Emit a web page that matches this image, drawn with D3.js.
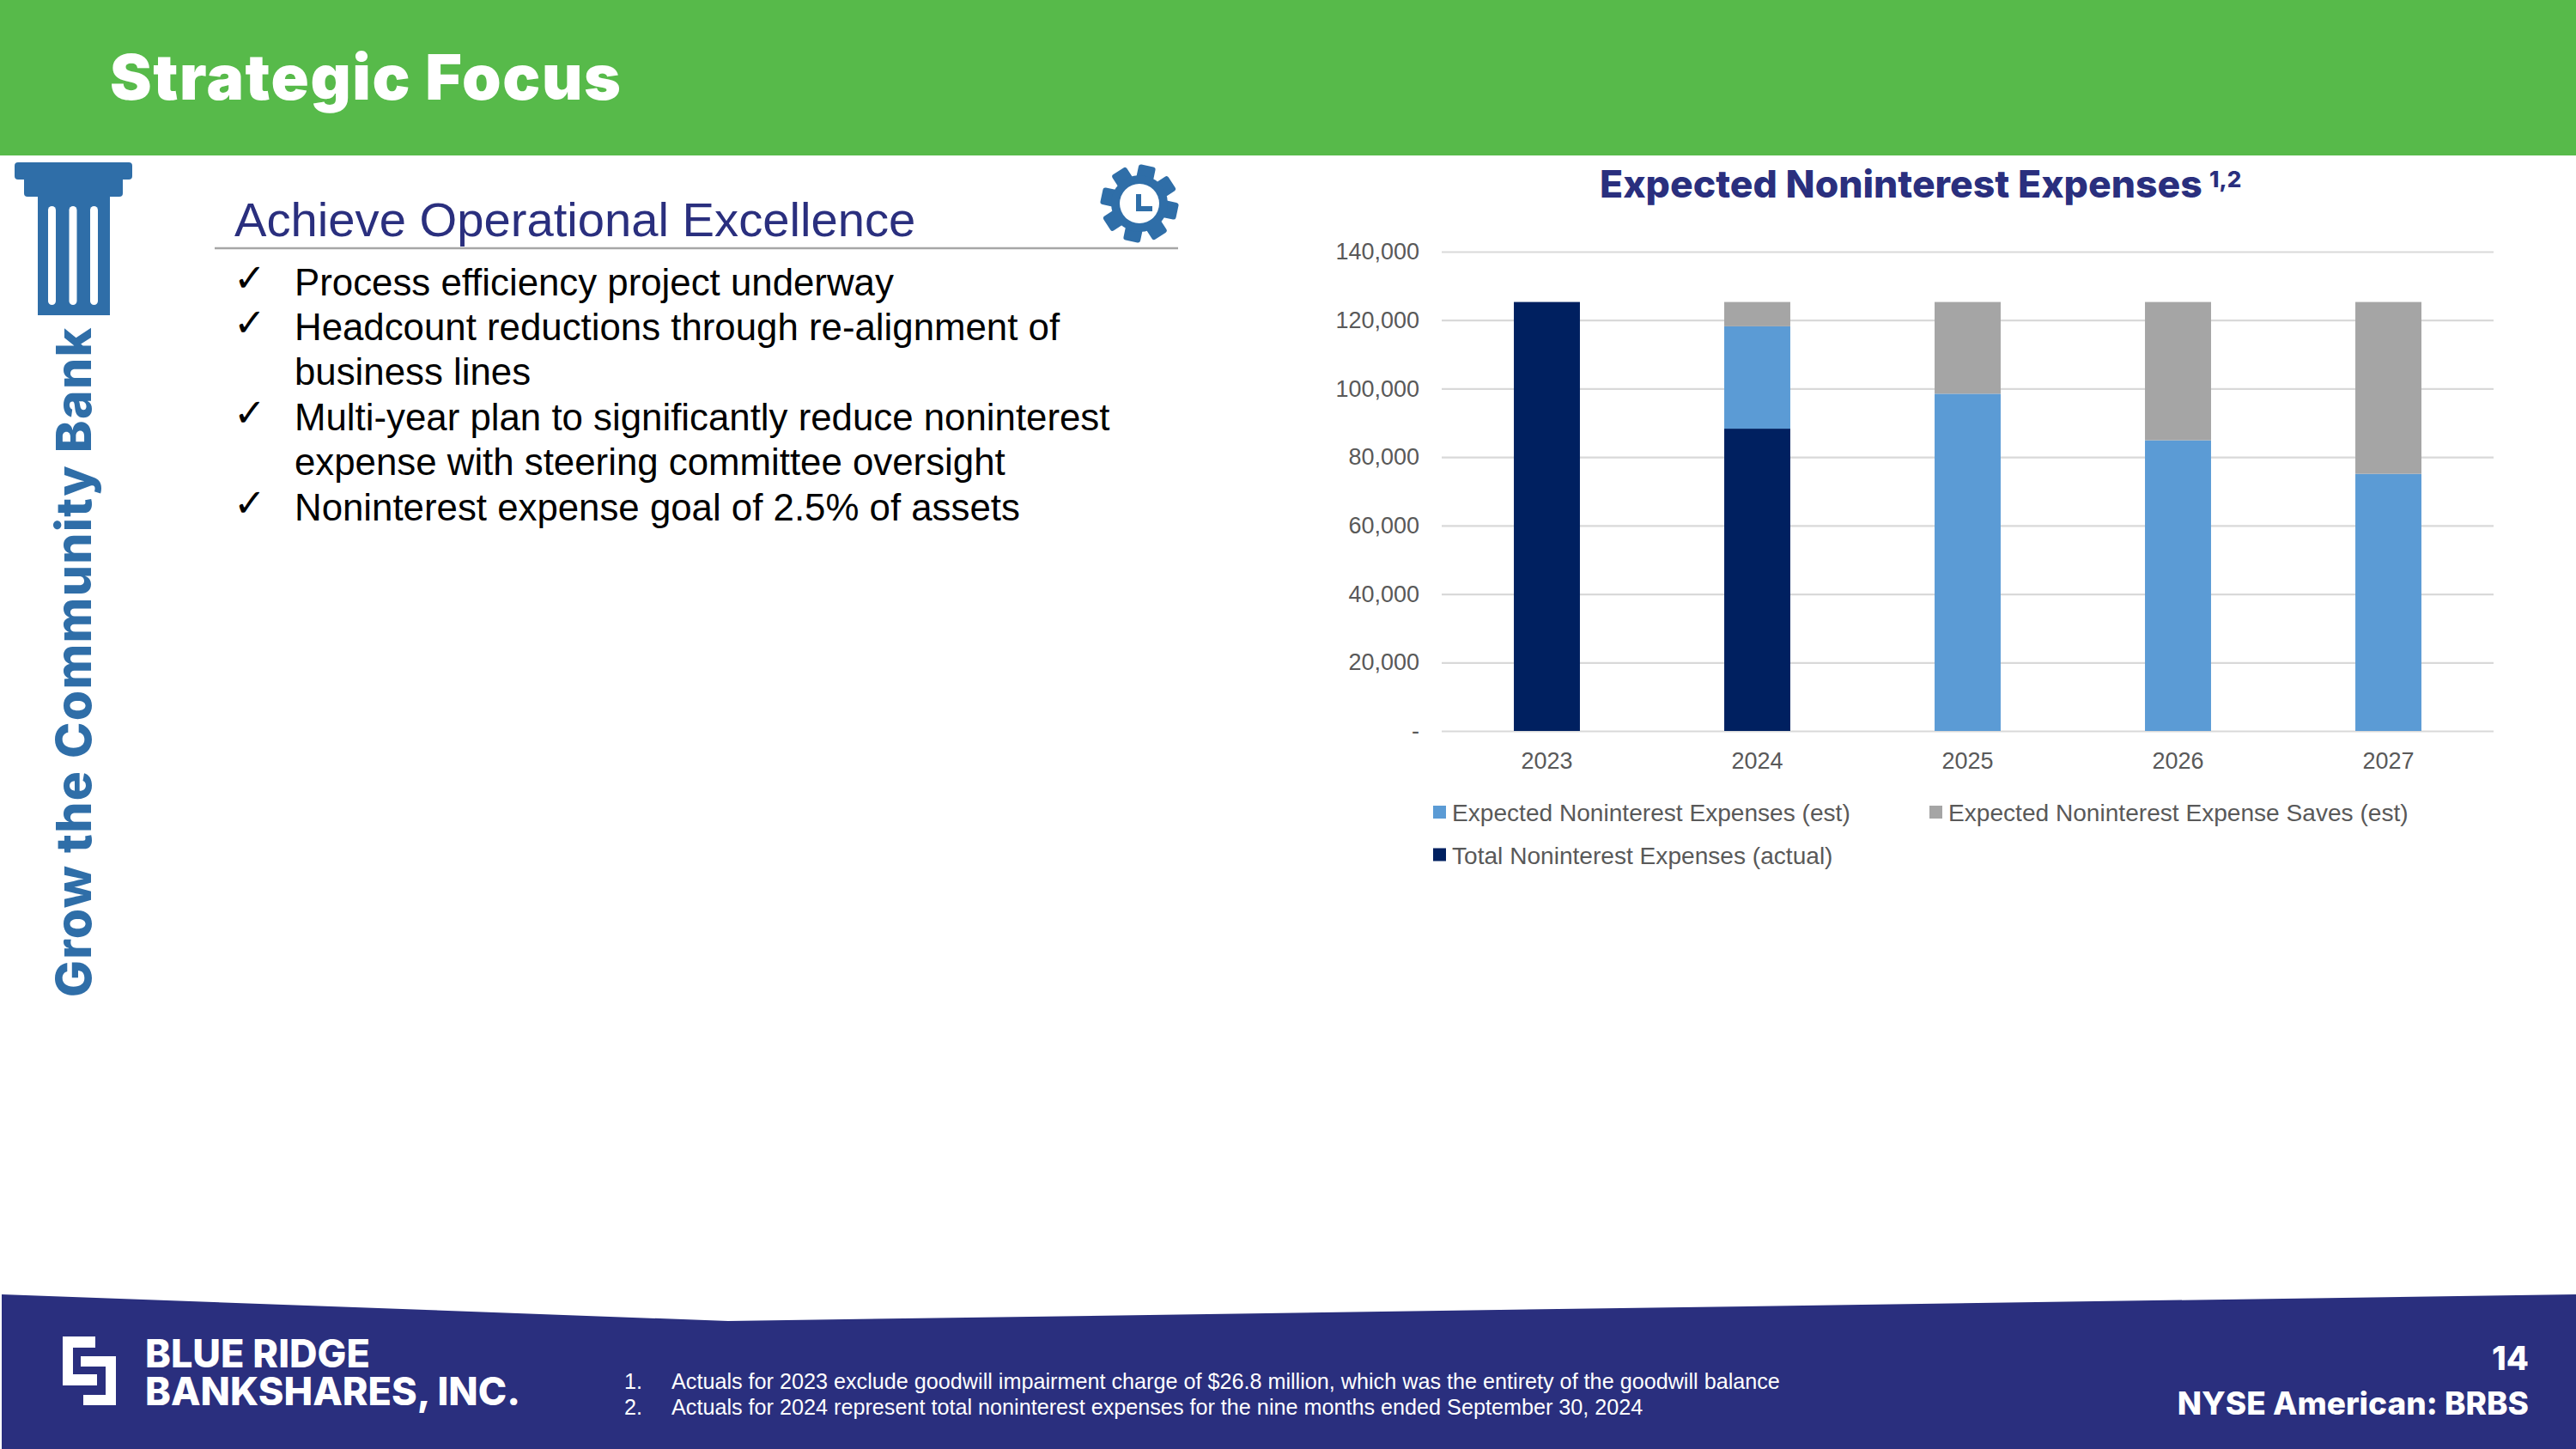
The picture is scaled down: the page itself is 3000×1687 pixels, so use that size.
<!DOCTYPE html>
<html>
<head>
<meta charset="utf-8">
<title>Strategic Focus</title>
<script src="https://cdn.jsdelivr.net/npm/d3@7"></script>
<style>
  html, body { margin: 0; padding: 0; background: #fff; }
  svg { display: block; }
  text { font-family: "Liberation Sans", Arial, sans-serif; }
  .heavy { font-family: Inter, "Open Sans", sans-serif; font-weight: 800; }
</style>
</head>
<body>
<svg id="slide" width="3000" height="1687"></svg>
<script>
var years = ["2023", "2024", "2025", "2026", "2027"];
var actual = [125300, 88300, 0, 0, 0];
var expected = [0, 29900, 98500, 84900, 75100];
var saves = [0, 7100, 26800, 40400, 50200];
var yTicks = [0, 20000, 40000, 60000, 80000, 100000, 120000, 140000];
var seriesNames = ["Total Noninterest Expenses (actual)", "Expected Noninterest Expenses (est)", "Expected Noninterest Expense Saves (est)"];
var seriesColors = ["#002060", "#5b9bd5", "#a5a5a5"];
var bullets = [
  ["Process efficiency project underway"],
  ["Headcount reductions through re-alignment of", "business lines"],
  ["Multi-year plan to significantly reduce noninterest", "expense with steering committee oversight"],
  ["Noninterest expense goal of 2.5% of assets"]
];
var footnotes = [
  "Actuals for 2023 exclude goodwill impairment charge of $26.8 million, which was the entirety of the goodwill balance",
  "Actuals for 2024 represent total noninterest expenses for the nine months ended September 30, 2024"
];

var navy = "#2a2f7e", steel = "#2f6ea8", green = "#57ba4a";
var svg = d3.select("#slide");

// slide furniture
svg.append("rect").attr("width", 3000).attr("height", 181).attr("fill", green);
svg.append("text").attr("class", "heavy").attr("x", 128).attr("y", 116).style("font-weight", 900)
    .attr("font-size", 73).attr("letter-spacing", 1.6).attr("fill", "#fff").text("Strategic Focus");

svg.append("polygon").attr("points", "2,1507 848,1538 3000,1507 3000,1687 2,1687").attr("fill", navy);

// logo
var logo = svg.append("g").attr("fill", "#fff");
logo.append("path").attr("d", "M73 1556H111V1569H85V1600H113V1613H73Z");
logo.append("path").attr("d", "M94 1579H135V1636H97V1624H123V1591H94Z");
var logoText = svg.append("text").attr("class", "heavy").attr("font-size", 45).attr("fill", "#fff");
logoText.append("tspan").attr("x", 169).attr("y", 1592).text("BLUE RIDGE");
logoText.append("tspan").attr("x", 169).attr("y", 1636).text("BANKSHARES, INC.");

footnotes.forEach(function(t, i) {
  var y = 1617 + i * 30;
  svg.append("text").attr("x", 727).attr("y", y).attr("font-size", 25.2).attr("fill", "#fff").text((i + 1) + ".");
  svg.append("text").attr("x", 782).attr("y", y).attr("font-size", 25.2).attr("fill", "#fff").text(t);
});
svg.append("text").attr("class", "heavy").attr("x", 2945).attr("y", 1595).attr("text-anchor", "end")
    .attr("font-size", 38).attr("fill", "#fff").text("14");
svg.append("text").attr("class", "heavy").attr("x", 2945).attr("y", 1647).attr("text-anchor", "end")
    .attr("font-size", 37).attr("fill", "#fff").text("NYSE American: BRBS");

// column icon and side label
var col = svg.append("g").attr("fill", steel);
col.append("rect").attr("x", 17).attr("y", 189).attr("width", 137).attr("height", 20).attr("rx", 4);
col.append("rect").attr("x", 28).attr("y", 200).attr("width", 115).attr("height", 29).attr("rx", 4);
col.append("rect").attr("x", 44).attr("y", 220).attr("width", 84).attr("height", 147);
[56, 80.5, 105].forEach(function(x) {
  svg.append("rect").attr("x", x).attr("y", 240).attr("width", 9).attr("height", 115).attr("rx", 4.5).attr("fill", "#fff");
});
svg.append("text").attr("class", "heavy").attr("transform", "translate(106,1161) rotate(-90)")
    .attr("font-size", 57).attr("letter-spacing", 1.3).attr("fill", steel).text("Grow the Community Bank");

// left panel
svg.append("text").attr("x", 273).attr("y", 275).attr("font-size", 56.2).attr("fill", navy).text("Achieve Operational Excellence");
svg.append("line").attr("x1", 250).attr("x2", 1372).attr("y1", 289).attr("y2", 289).attr("stroke", "#a6a6a6").attr("stroke-width", 2.5);

var lineNo = 0;
bullets.forEach(function(lines) {
  lines.forEach(function(t, i) {
    var y = 343.5 + lineNo * 52.4;
    if (i === 0) {
      svg.append("text").attr("x", 272).attr("y", y - 5).attr("font-size", 45).attr("fill", "#000")
          .style("font-family", "DejaVu Sans").text("\u2713");
    }
    svg.append("text").attr("x", 343).attr("y", y).attr("font-size", 43.8).attr("fill", "#000").text(t);
    lineNo++;
  });
});

// gear icon
var gear = svg.append("g").attr("transform", "translate(1327,237)");
d3.range(8).forEach(function(i) {
  gear.append("rect").attr("x", -10).attr("y", -45).attr("width", 20).attr("height", 22).attr("rx", 3)
      .attr("fill", steel).attr("transform", "rotate(" + (i * 45 + 12) + ")");
});
gear.append("circle").attr("r", 33).attr("fill", steel);
gear.append("circle").attr("r", 23).attr("fill", "#fff");
gear.append("path").attr("d", "M-4 -11H2V3H15V9H-4Z").attr("fill", steel);

// chart
var margin = {left: 1679, right: 2904, top: 293, bottom: 851};
var x = d3.scaleBand().domain(years).range([margin.left, margin.right]).paddingInner(0.686).paddingOuter(0.343);
var y = d3.scaleLinear().domain([0, 140000]).range([margin.bottom, margin.top]);

svg.append("text").attr("class", "heavy").attr("x", 1863).attr("y", 230)
    .attr("font-size", 44.5).attr("fill", navy).text("Expected Noninterest Expenses");
svg.append("text").attr("class", "heavy").attr("x", 2573).attr("y", 218)
    .attr("font-size", 26).attr("fill", navy).text("1,2");

var yAxis = d3.axisLeft(y).tickValues(yTicks).tickSize(0).tickPadding(26)
    .tickFormat(function(d) { return d === 0 ? "-" : d3.format(",")(d); });
var yG = svg.append("g").attr("transform", "translate(" + margin.left + ",0)").call(yAxis);
yG.select(".domain").remove();
yG.selectAll("text").attr("font-size", 27).attr("fill", "#595959").style("font-family", "Liberation Sans");
yG.selectAll(".tick").append("line").attr("x1", 0).attr("x2", margin.right - margin.left)
    .attr("stroke", "#d9d9d9").attr("stroke-width", 2.2);

var table = years.map(function(yr, i) {
  return {year: yr, actual: actual[i], expected: expected[i], saves: saves[i]};
});
var stack = d3.stack().keys(["actual", "expected", "saves"])(table);

svg.append("g").selectAll("g").data(stack).enter().append("g")
    .attr("fill", function(d, i) { return seriesColors[i]; })
  .selectAll("rect").data(function(d) { return d; }).enter().append("rect")
    .attr("x", function(d) { return x(d.data.year); })
    .attr("width", x.bandwidth())
    .attr("y", function(d) { return y(d[1]); })
    .attr("height", function(d) { return y(d[0]) - y(d[1]); });

var xAxis = d3.axisBottom(x).tickSize(0).tickPadding(25);
var xG = svg.append("g").attr("transform", "translate(0," + margin.bottom + ")").call(xAxis);
xG.select(".domain").remove();
xG.selectAll("text").attr("font-size", 27).attr("fill", "#595959").style("font-family", "Liberation Sans");

// legend, in the reference's order
var legendItems = [
  {s: 1, x: 1669, y: 956},
  {s: 2, x: 2247, y: 956},
  {s: 0, x: 1669, y: 1005.5}
];
legendItems.forEach(function(d) {
  svg.append("rect").attr("x", d.x).attr("y", d.y - 18).attr("width", 15).attr("height", 15).attr("fill", seriesColors[d.s]);
  svg.append("text").attr("x", d.x + 22).attr("y", d.y).attr("font-size", 28.1).attr("fill", "#595959").text(seriesNames[d.s]);
});
</script>
</body>
</html>
